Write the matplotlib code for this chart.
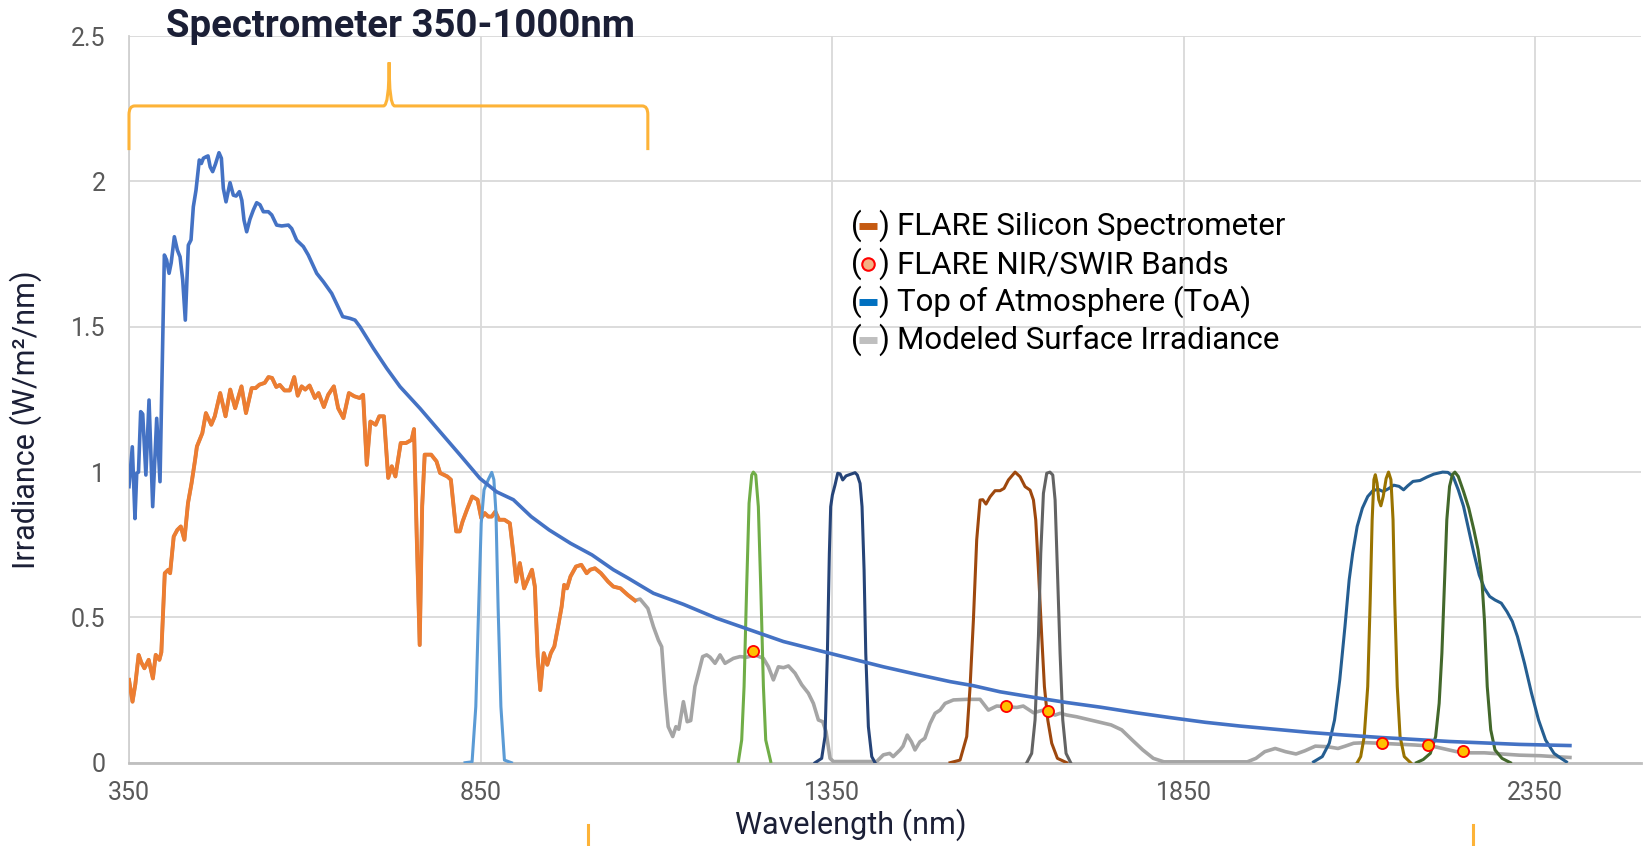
import matplotlib
matplotlib.use("Agg")
import matplotlib.pyplot as plt
import matplotlib.transforms as mtransforms
from matplotlib.path import Path
from matplotlib.patches import PathPatch
from matplotlib.lines import Line2D

plt.rcParams['font.family'] = ['Roboto', 'DejaVu Sans']

# ---- data ----
# Top of Atmosphere irradiance (W/m2/nm)
toa_wl = [350, 354.7, 358.5, 361, 363.5, 366.6, 369.5, 374, 378.5, 383.7, 389.4, 394.1,
          400.3, 403.5, 407, 410, 414.5, 418.8, 422.6, 426.4, 430.1, 434.4, 438.2, 441.5,
          445.3, 450, 452.9, 455.8, 459.5, 462.4, 465.5, 469, 473, 478, 481.4, 484.2, 488,
          493.7, 498.4, 502.4, 507, 510.5, 513.6, 517.4, 522, 526.9, 531.6, 536.3, 541.1,
          548.2, 553, 560, 567.2, 576.7, 581.4, 588.5, 598, 605, 617, 626.5, 638.3, 654,
          664.4, 671.5, 678.6, 697.6, 716.6, 735.5, 764, 792.4, 820.9, 849.3, 873, 896.7,
          922, 947.6, 978, 1008.6, 1039, 1060, 1080, 1096, 1138.6, 1186, 1233.4, 1280.8,
          1328, 1375.6, 1423, 1470.5, 1518, 1551, 1589, 1636.5, 1684, 1732, 1782, 1831.6,
          1881, 1930.8, 1980.4, 2030, 2079.6, 2129, 2178.8, 2228.4, 2278, 2327.6, 2399.6]
toa_irr = [0.95, 1.087, 0.84, 0.996, 1.0, 1.208, 1.2, 0.99, 1.248, 0.881, 1.185, 0.967,
           1.747, 1.73, 1.684, 1.72, 1.81, 1.764, 1.741, 1.661, 1.523, 1.781, 1.799, 1.913,
           1.97, 2.074, 2.062, 2.08, 2.085, 2.088, 2.05, 2.034, 2.06, 2.099, 2.08, 1.976, 1.93,
           1.996, 1.953, 1.95, 1.965, 1.935, 1.867, 1.827, 1.87, 1.902, 1.927, 1.92, 1.896,
           1.896, 1.885, 1.85, 1.847, 1.85, 1.838, 1.798, 1.776, 1.747, 1.684, 1.655, 1.615, 1.535,
           1.529, 1.523, 1.5, 1.426, 1.357, 1.294, 1.219, 1.139, 1.059, 0.978, 0.932, 0.905,
           0.847, 0.801, 0.755, 0.715, 0.664, 0.635, 0.606, 0.583, 0.545, 0.497, 0.457, 0.417,
           0.388, 0.359, 0.330, 0.304, 0.279, 0.265, 0.244, 0.225, 0.207, 0.191, 0.172, 0.155,
           0.139, 0.126, 0.115, 0.104, 0.095, 0.087, 0.080, 0.073, 0.068, 0.063, 0.059]

# FLARE silicon spectrometer (350 - ~1070 nm)
si_wl = [350, 355, 359, 363.7, 367.5, 371.9, 378, 384, 388, 393.2, 396, 400.9, 406, 408.5,
         413.6, 418.7, 423.7, 428.8, 433.9, 439, 444, 446.6, 454.3, 459.4, 467, 472, 479.7,
         487.3, 494, 501, 510, 516.4, 524.5, 530, 535.6, 543, 548.4, 553.5, 559.5, 564.5,
         571.2, 578.8, 585, 590, 595.6, 600.7, 606.8, 614.5, 619.6, 627.2, 633.3, 641.4,
         647.5, 655, 662.8, 670.4, 678, 683, 688.2, 693.3, 700.9, 706, 712.6, 718.7, 723.8,
         728.9, 736.5, 744, 752, 755.4, 759.4, 763.5, 767, 770.6, 779.8, 787.4, 792.5, 802.7,
         807.8, 815.4, 820.5, 824.5, 830.6, 838.2, 845.8, 851, 856, 861, 866, 871, 876.4, 884,
         891.7, 896.7, 900.8, 905.9, 912, 917, 923.2, 927.3, 931.3, 935, 940, 945, 950, 955,
         960.3, 965.4, 969, 973, 978, 985.8, 993.4, 1001, 1006, 1012.7, 1021.3, 1031.5, 1039,
         1049, 1059.6, 1069.7]
si_irr = [0.285, 0.21, 0.27, 0.371, 0.345, 0.325, 0.354, 0.29, 0.371, 0.354, 0.38, 0.652,
          0.664, 0.652, 0.778, 0.801, 0.813, 0.767, 0.893, 0.962, 1.042, 1.088, 1.134, 1.203,
          1.163, 1.192, 1.272, 1.192, 1.284, 1.220, 1.295, 1.203, 1.289, 1.289, 1.301, 1.307,
          1.327, 1.324, 1.293, 1.30, 1.281, 1.281, 1.327, 1.263, 1.295, 1.284, 1.298, 1.255,
          1.272, 1.224, 1.266, 1.295, 1.220, 1.186, 1.272, 1.261, 1.255, 1.266, 1.025, 1.174,
          1.163, 1.192, 1.192, 0.980, 1.020, 0.985, 1.100, 1.100, 1.111, 1.148, 0.767, 0.405,
          0.882, 1.060, 1.060, 1.037, 0.997, 0.985, 0.974, 0.796, 0.796, 0.830, 0.870, 0.916,
          0.905, 0.842, 0.859, 0.847, 0.847, 0.864, 0.836, 0.836, 0.824, 0.721, 0.623, 0.687,
          0.600, 0.629, 0.664, 0.606, 0.365, 0.250, 0.377, 0.337, 0.377, 0.40, 0.468, 0.537,
          0.612, 0.60, 0.641, 0.675, 0.681, 0.652, 0.664, 0.669, 0.652, 0.623, 0.606, 0.600,
          0.577, 0.558]

# Modeled surface irradiance beyond the silicon range (below 1070 nm it follows si_*)
surf_wl_ext = [1077, 1088, 1096, 1103, 1107.7, 1112.5, 1117, 1123.4, 1128, 1132, 1138.6, 1144,
               1149, 1155, 1160, 1166, 1171.7, 1176.5, 1183.6, 1190.7, 1197.8, 1209.7, 1219,
               1228.6, 1240.5, 1252.4, 1259.5, 1266.6, 1273.7, 1281, 1288, 1297.4, 1307, 1316.4,
               1323.5, 1330.6, 1336.8, 1341.5, 1347.2, 1352, 1413.6, 1423, 1432, 1437, 1446.8,
               1451, 1457, 1463, 1468, 1475, 1482, 1489.5, 1496.6, 1503.7, 1510.8, 1522.7,
               1541.6, 1560.6, 1572.4, 1584.3, 1596, 1612.8, 1622, 1636.5, 1650.7, 1667.3,
               1674.4, 1684, 1698, 1717, 1732.4, 1747, 1762, 1777, 1792, 1807, 1822, 1940.8,
               1953, 1965.6, 1980.4, 1995, 2010, 2022.6, 2037.5, 2055, 2069.7, 2080, 2092,
               2109.4, 2129, 2154, 2178.8, 2203.6, 2218.5, 2238.4, 2258, 2278, 2302.8, 2327.6,
               2357.4, 2377, 2399.6]
surf_irr_ext = [0.563, 0.531, 0.468, 0.422, 0.399, 0.239, 0.124, 0.09, 0.124, 0.115, 0.210,
                0.141, 0.145, 0.262, 0.308, 0.365, 0.371, 0.363, 0.342, 0.371, 0.342, 0.359,
                0.365, 0.363, 0.371, 0.359, 0.330, 0.285, 0.330, 0.327, 0.333, 0.308, 0.268,
                0.239, 0.204, 0.147, 0.141, 0.107, 0.015, 0.004, 0.004, 0.027, 0.032, 0.021,
                0.044, 0.057, 0.095, 0.072, 0.044, 0.072, 0.084, 0.135, 0.170, 0.181, 0.204,
                0.216, 0.218, 0.218, 0.181, 0.195, 0.193, 0.190, 0.195, 0.172, 0.181, 0.164,
                0.170, 0.164, 0.158, 0.147, 0.138, 0.130, 0.113, 0.078, 0.044, 0.015, 0.003,
                0.003, 0.015, 0.038, 0.049, 0.038, 0.030, 0.041, 0.057, 0.055, 0.049, 0.057,
                0.067, 0.069, 0.067, 0.064, 0.061, 0.057, 0.049, 0.038, 0.034, 0.034, 0.030,
                0.026, 0.024, 0.021, 0.018]

# FLARE NIR/SWIR band points
band_pt_wl = [1238, 1598, 1657, 2132, 2198, 2247]
band_pt_irr = [0.385, 0.194, 0.178, 0.067, 0.061, 0.040]

# normalized band responses
b865_wl = [828, 838, 843.3, 847.4, 851, 855, 861, 866, 869, 872, 875, 879, 884, 894]
b865_r = [0, 0.003, 0.193, 0.537, 0.824, 0.939, 0.974, 0.999, 0.974, 0.859, 0.537, 0.193, 0.009, 0]
b1240_wl = [1216.8, 1221.5, 1224.9, 1228.6, 1232, 1235.8, 1238.1, 1241.5, 1245.2, 1248.6,
            1252.4, 1255.7, 1262.8]
b1240_r = [0.004, 0.078, 0.262, 0.606, 0.893, 0.99, 1.0, 0.99, 0.881, 0.606, 0.262, 0.078, 0.004]
b1375_wl = [1325.9, 1335.3, 1340, 1343.4, 1346.2, 1348.1, 1350.5, 1354.3, 1358.1, 1361.5,
            1365.2, 1370, 1375.7, 1382.8, 1386, 1389.9, 1392.7, 1395.6, 1398, 1401.7, 1406.5,
            1411.2]
b1375_r = [0, 0.015, 0.09, 0.376, 0.72, 0.881, 0.921, 0.956, 0.996, 0.994, 0.973, 0.987,
           0.992, 0.998, 0.99, 0.961, 0.881, 0.663, 0.376, 0.124, 0.021, 0]
b1610_wl = [1517.9, 1532.1, 1541.6, 1546.4, 1551.1, 1555.8, 1560.6, 1564.5, 1569, 1574.8,
            1581.9, 1589, 1594.7, 1600.9, 1610.4, 1617.5, 1624.6, 1631.7, 1636.5, 1639.8,
            1643.6, 1648.3, 1652.1, 1656.9, 1662.5, 1670.6, 1683.9]
b1610_r = [0, 0.009, 0.09, 0.262, 0.491, 0.767, 0.904, 0.905, 0.89, 0.915, 0.936, 0.936,
           0.944, 0.973, 1.0, 0.984, 0.95, 0.938, 0.904, 0.835, 0.663, 0.434, 0.262, 0.147,
           0.067, 0.015, 0]
b1650_wl = [1627, 1634, 1638.8, 1643.6, 1646.9, 1650.7, 1655.4, 1660, 1664, 1667.3, 1670.6,
            1674.4, 1678.2, 1682.9, 1689.5]
b1650_r = [0, 0.032, 0.147, 0.434, 0.72, 0.927, 0.996, 1.0, 0.99, 0.904, 0.663, 0.376,
           0.147, 0.032, 0]
b2200_wl = [2035, 2047.4, 2057.3, 2064.8, 2072.2, 2079.6, 2085.6, 2090.6, 2097, 2104.4, 2112,
            2119.3, 2126.8, 2134, 2141.6, 2149, 2156.5, 2163, 2169, 2176.4, 2186.3, 2196.3,
            2206, 2218.5, 2226, 2233.4, 2240.8, 2248.3, 2255.7, 2263, 2270.6, 2278, 2285.5,
            2293, 2302, 2310, 2317.7, 2325, 2335, 2345, 2355, 2365, 2377, 2387, 2394.6]
b2200_r = [0.003, 0.021, 0.067, 0.147, 0.285, 0.468, 0.629, 0.721, 0.813, 0.876, 0.916, 0.936,
           0.941, 0.933, 0.943, 0.955, 0.951, 0.939, 0.953, 0.968, 0.971, 0.983, 0.993, 1.0,
           0.999, 0.985, 0.939, 0.882, 0.801, 0.721, 0.646, 0.600, 0.572, 0.560, 0.549, 0.520,
           0.486, 0.434, 0.342, 0.239, 0.147, 0.078, 0.032, 0.015, 0.003]
b2130_wl = [2097, 2102, 2107, 2112, 2115.4, 2118.3, 2120.8, 2122.8, 2125.3, 2127.7, 2130.7,
            2134, 2138.2, 2141.6, 2145, 2148, 2150.5, 2154, 2158, 2164, 2173]
b2130_r = [0, 0.021, 0.09, 0.262, 0.549, 0.836, 0.974, 0.991, 0.962, 0.905, 0.884, 0.916,
           0.978, 1.0, 0.974, 0.836, 0.549, 0.262, 0.09, 0.021, 0]
b2235_wl = [2181.3, 2191, 2201, 2208.6, 2213.6, 2217.5, 2221, 2224.5, 2228.4, 2232.4, 2236,
            2240.8, 2248.3, 2255.7, 2263, 2269, 2274, 2278, 2282, 2287, 2293, 2303, 2315]
b2235_r = [0, 0.011, 0.032, 0.09, 0.204, 0.377, 0.606, 0.836, 0.951, 0.991, 1.0, 0.985,
           0.933, 0.876, 0.801, 0.732, 0.641, 0.491, 0.262, 0.113, 0.044, 0.015, 0]

x_ticks = [350, 850, 1350, 1850, 2350]
y_ticks = [0, 0.5, 1, 1.5, 2, 2.5]
y_tick_labels = ['0', '0.5', '1', '1.5', '2', '2.5']

# brace marking the silicon spectrometer range
brace_lo, brace_mid, brace_hi = 350, 720, 1088
brace_foot, brace_bar, brace_tip = 2.108, 2.26, 2.41
# ends of the lower (SWIR) brace, cut by the figure edge
swir_ends = [1003, 2262]

legend_items = [('line', '#C55A11', 'FLARE Silicon Spectrometer'),
                ('dot', '#F4B183', 'FLARE NIR/SWIR Bands'),
                ('line', '#0070C0', 'Top of Atmosphere (ToA)'),
                ('line', '#BFBFBF', 'Modeled Surface Irradiance')]

W, H = 1646, 846
fig = plt.figure(figsize=(W / 100, H / 100), dpi=100)
ax = fig.add_axes([129 / W, 1 - 762.7 / H, 1511.5 / W, 726.5 / H])


def fx(px):
    return px / W


def fy(py):
    return 1 - py / H


surf_wl = si_wl + surf_wl_ext
surf_irr = si_irr + surf_irr_ext

ax.plot(surf_wl, surf_irr, color='#A5A5A5', lw=2.6, zorder=3)
ax.plot(si_wl, si_irr, color='#ED7D31', lw=2.8, zorder=4)

bands = [(b865_wl, b865_r, '#5B9BD5'), (b1240_wl, b1240_r, '#70AD47'),
         (b1375_wl, b1375_r, '#264478'), (b1610_wl, b1610_r, '#9E480E'),
         (b1650_wl, b1650_r, '#636363'), (b2200_wl, b2200_r, '#255E91'),
         (b2130_wl, b2130_r, '#997300'), (b2235_wl, b2235_r, '#43682B')]
for bw, br, bc in bands:
    ax.plot(bw, br, color=bc, lw=2.2, zorder=5)

ax.plot(toa_wl, toa_irr, color='#4472C4', lw=2.6, zorder=6)
ax.plot(band_pt_wl, band_pt_irr, 'o', ms=8, mfc='#FFC000', mec='red', mew=1.3, zorder=7)

ax.set_xlim(350, 2500)
ax.set_ylim(0, 2.5)
ax.set_xticks(x_ticks)
ax.set_yticks(y_ticks)
ax.set_yticklabels(y_tick_labels)
ax.tick_params(length=0, labelsize=18, colors='#595959')
ax.tick_params(axis='x', pad=13)
ax.tick_params(axis='y', pad=17)
ax.grid(True, color='#D9D9D9', lw=1.3)
ax.set_axisbelow(True)
for s in ['top', 'right']:
    ax.spines[s].set_visible(False)
ax.spines['left'].set_color('#D0D0D0')
ax.spines['left'].set_linewidth(1.3)
ax.spines['bottom'].set_color('#BFBFBF')
ax.spines['bottom'].set_linewidth(2)

# brace above the visible range
d = 8
k = 0.03
verts = [(brace_lo, brace_foot), (brace_lo, brace_bar - k), (brace_lo, brace_bar),
         (brace_lo + d, brace_bar), (brace_mid - d, brace_bar), (brace_mid, brace_bar),
         (brace_mid, brace_tip), (brace_mid, brace_bar), (brace_mid + d, brace_bar),
         (brace_hi - d, brace_bar), (brace_hi, brace_bar), (brace_hi, brace_bar - k),
         (brace_hi, brace_foot)]
codes = [Path.MOVETO, Path.LINETO, Path.CURVE3, Path.CURVE3, Path.LINETO, Path.CURVE3,
         Path.CURVE3, Path.CURVE3, Path.CURVE3, Path.LINETO, Path.CURVE3, Path.CURVE3,
         Path.LINETO]
ax.add_patch(PathPatch(Path(verts, codes), fill=False, ec='#FDB338', lw=2.2,
                       clip_on=False, zorder=8))

trans = mtransforms.blended_transform_factory(ax.transData, fig.transFigure)
for xe in swir_ends:
    ax.add_line(Line2D([xe, xe], [0, fy(825)], transform=trans, color='#FDB338',
                       lw=2.2, clip_on=False))

fig.text(fx(166), fy(37), 'Spectrometer 350-1000nm', fontsize=27.5, fontweight='bold',
         color='#1B1F36', ha='left', va='baseline')
fig.text(fx(851), fy(834), 'Wavelength (nm)', fontsize=22, color='#1B1F36',
         ha='center', va='baseline')
fig.text(fx(26), fy(420), 'Irradiance (W/m²/nm)', fontsize=22, color='#1B1F36',
         rotation=90, ha='center', va='center')

# hand-made legend
for i, (kind, col, label) in enumerate(legend_items):
    base = 235 + i * 38
    fig.text(fx(851), fy(base), '(', fontsize=22.5, color='black', va='baseline')
    fig.text(fx(878), fy(base), ')', fontsize=22.5, color='black', va='baseline')
    fig.text(fx(897), fy(base), label, fontsize=22.5, color='black', va='baseline')
    if kind == 'line':
        fig.add_artist(Line2D([fx(859), fx(877)], [fy(base - 9)] * 2, color=col,
                              lw=5, solid_capstyle='butt', transform=fig.transFigure))
    else:
        fig.add_artist(Line2D([fx(868)], [fy(base - 9)], marker='o', ms=9, mfc=col,
                              mec='red', mew=1.5, transform=fig.transFigure))

fig.savefig('out.png', dpi=100)
